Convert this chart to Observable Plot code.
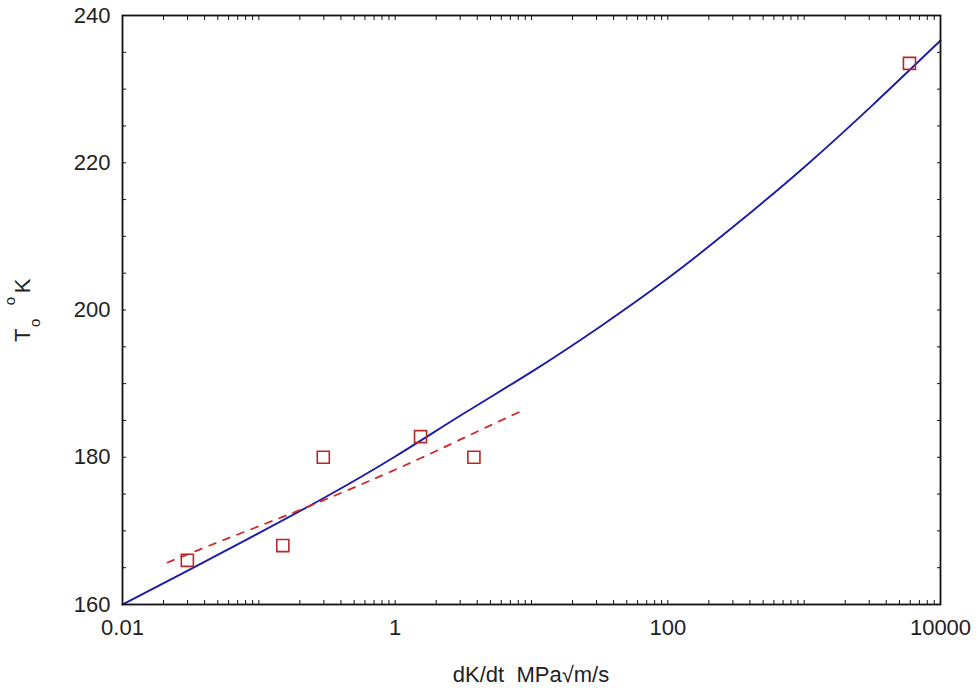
<!DOCTYPE html>
<html>
<head>
<meta charset="utf-8">
<script src="https://cdn.jsdelivr.net/npm/d3@7"></script>
<script src="https://cdn.jsdelivr.net/npm/@observablehq/plot@0.6"></script>
<style>
  html, body { margin: 0; padding: 0; background: #fff; }
  #chart { width: 977px; height: 690px; }
</style>
</head>
<body>
<div id="chart"></div>
<script>
// Measured points (squares)
const pointX = [0.0299, 0.150, 0.297, 1.535, 3.78, 5920];
const pointT = [166, 168, 180, 182.8, 180, 233.5];

// Solid blue fitted curve (read at half-decade steps)
const fitX = [0.01, 0.0316, 0.1, 0.316, 1, 3.16, 10, 31.6, 100, 316, 1000, 3162, 10000];
const fitT = [160, 164.8, 169.7, 174.7, 180.1, 185.9, 191.6, 197.7, 204.3, 211.6, 219.4, 227.8, 236.6];

// Dashed red curve
const dashX = [0.0214, 0.0525, 0.145, 0.302, 0.631, 1.55, 3.80, 8.71];
const dashT = [165.7, 168.6, 171.8, 174.2, 176.7, 179.9, 183.3, 186.4];

// Tick labels
const xTickLabels = [0.01, 1, 100, 10000];
const yTickLabels = [160, 180, 200, 220, 240];
const xLabel = "dK/dt  MPa\u221Am/s";

const points = pointX.map((x, i) => ({x, t: pointT[i]}));
const fit = fitX.map((x, i) => ({x, t: fitT[i]}));
const dash = dashX.map((x, i) => ({x, t: dashT[i]}));

const xMinor = d3.scaleLog().domain([0.01, 10000]).ticks();
const yMinor = d3.range(160, 241, 5);

const font = "'Liberation Sans', Arial, sans-serif";
const blank = () => "";

const plot = Plot.plot({
  width: 977,
  height: 690,
  marginLeft: 122,
  marginRight: 37,
  marginTop: 15,
  marginBottom: 86,
  style: {fontFamily: font, fontSize: "22px", color: "#222", background: "#fff"},
  x: {type: "log", domain: [0.01, 10000], axis: null},
  y: {domain: [160, 240], axis: null},
  marks: [
    // inward ticks on all four sides
    Plot.axisX(xMinor, {anchor: "bottom", tickSize: -4, tickFormat: blank, label: null, stroke: "#111"}),
    Plot.axisX(xMinor, {anchor: "top", tickSize: -4, tickFormat: blank, label: null, stroke: "#111"}),
    Plot.axisY(yMinor, {anchor: "left", tickSize: -4, tickFormat: blank, label: null, stroke: "#111"}),
    Plot.axisY(yMinor, {anchor: "right", tickSize: -4, tickFormat: blank, label: null, stroke: "#111"}),
    // tick labels
    Plot.axisX(xTickLabels, {anchor: "bottom", tickSize: 0, tickPadding: 15, tickFormat: d => String(d), label: null, fontSize: 22, fill: "#222"}),
    Plot.axisY(yTickLabels, {anchor: "left", tickSize: 0, tickPadding: 12, tickFormat: d => String(d), label: null, fontSize: 22, fill: "#222"}),
    Plot.line(fit, {x: "x", y: "t", stroke: "#1c1ca6", strokeWidth: 1.9, curve: "natural"}),
    Plot.line(dash, {x: "x", y: "t", stroke: "#d02828", strokeWidth: 1.8, strokeDasharray: "7,8", curve: "natural"}),
    Plot.dot(points, {x: "x", y: "t", symbol: "square", r: 6.8, stroke: "#b82828", strokeWidth: 1.6, fill: "none"}),
    Plot.frame({stroke: "#111", strokeWidth: 1.8})
  ]
});

const svg = d3.select(plot);
// drop the empty texts of tick-only axes
svg.selectAll("text").filter(function() { return this.textContent.trim() === ""; }).remove();

// x axis label
svg.append("text")
  .attr("x", 531).attr("y", 682)
  .attr("text-anchor", "middle")
  .attr("font-family", font).attr("font-size", 22).attr("fill", "#222")
  .text(xLabel);

// y axis label: T subscript o, superscript o, K
const yl = svg.append("text")
  .attr("transform", "translate(30,342) rotate(-90)")
  .attr("text-anchor", "start")
  .attr("font-family", font).attr("font-size", 22).attr("fill", "#222");
yl.append("tspan").text("T");
yl.append("tspan").attr("font-size", 15).attr("dx", 1.5).attr("dy", 10).text("o");
yl.append("tspan").attr("font-size", 15).attr("dx", 13.5).attr("dy", -25).text("o");
yl.append("tspan").attr("dx", 3.5).attr("dy", 15).text("K");

document.getElementById("chart").appendChild(plot);
</script>
</body>
</html>
